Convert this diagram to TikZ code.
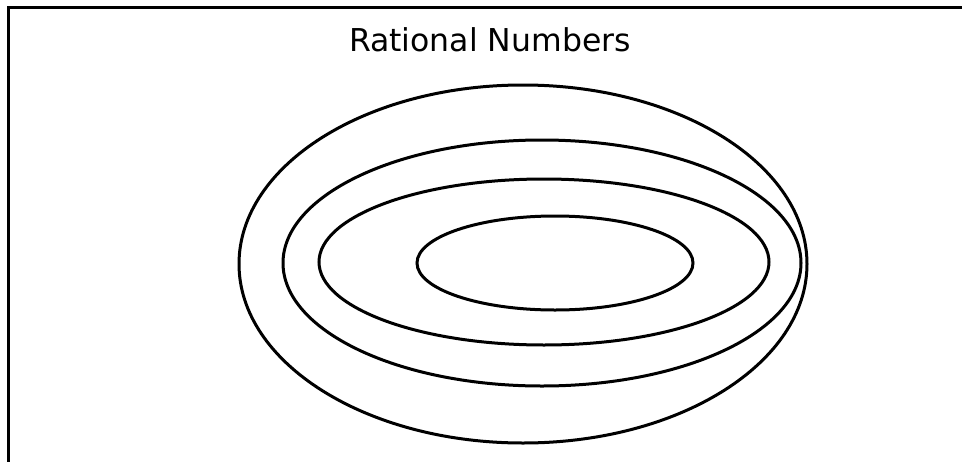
\documentclass[tikz,border=0pt]{standalone}
\usepackage{fontspec}
\setmainfont{DejaVu Sans}
\usetikzlibrary{calc}

\begin{document}
\begin{tikzpicture}[x=1pt,y=-1pt,line width=3pt]
  \useasboundingbox (0,0) rectangle (962,461);
  \begin{scope}
    \clip (0,0) rectangle (962,461);
    \draw (8,7) rectangle (975,475);
  \end{scope}
  \node[font=\fontsize{31.5}{38}\selectfont] (title) at (490,40) {Rational Numbers};
  \coordinate (Q) at (523,264);
  \coordinate (Z) at (542,263);
  \coordinate (W) at (544,262);
  \coordinate (N) at (555,263);
  \draw (Q) ellipse [x radius=284,y radius=179];
  \draw (Z) ellipse [x radius=259,y radius=123];
  \draw (W) ellipse [x radius=225,y radius=83];
  \draw (N) ellipse [x radius=138,y radius=47];
\end{tikzpicture}
\end{document}
